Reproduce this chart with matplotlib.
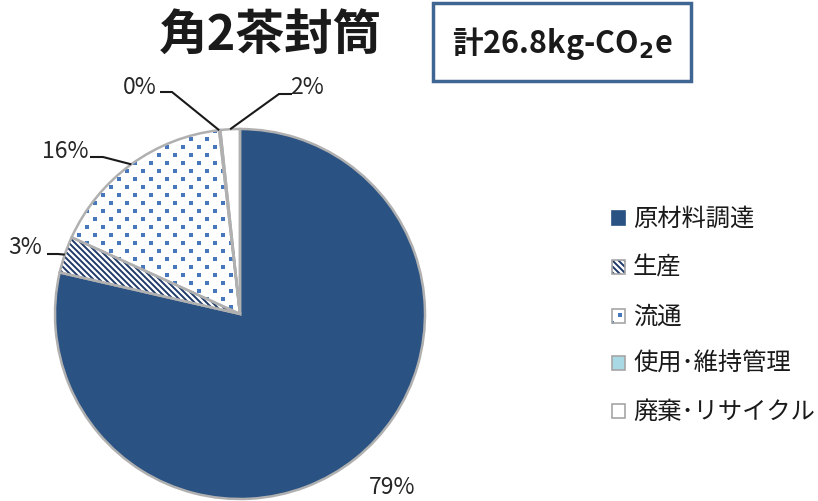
import matplotlib
matplotlib.use("Agg")
import matplotlib.pyplot as plt
import numpy as np
from matplotlib.patches import Rectangle
from matplotlib.collections import LineCollection

plt.rcParams['font.family'] = ['Noto Sans CJK JP', 'DejaVu Sans']

# ---- data ----
categories = ["原材料調達", "生産", "流通", "使用･維持管理", "廃棄･リサイクル"]
shares = [78.6, 3.2, 16.4, 0.1, 1.7]          # percent of total
title = "角2茶封筒"
total_label = r"計26.8kg-CO$_{\mathbf{2}}$e"

# ---- styles ----
face_colors = ['#2A5283', 'white', 'white', '#A9D9E4', 'white']
patterns = [None, 'lines', 'dots', None, None]
line_color = '#1F3A68'
dot_color = '#4677BD'
outline = '#B0B0B0'

W, H = 818, 502
fig = plt.figure(figsize=(W / 100, H / 100), dpi=100)
ax = fig.add_axes([0, 0, 1, 1])


def Y(y):
    return H - y


def add_pattern(kind, patch, x0, x1, y0, y1):
    if kind == 'lines':
        segs = []
        for c in np.arange(x0 + y0 - (y1 - y0) - 20, x1 + y1 + 20, 6.0):
            # y = -x + c  (top-left to bottom-right)
            segs.append([(x0 - 5, c - (x0 - 5)), (x1 + 5, c - (x1 + 5))])
        lc = LineCollection(segs, colors=line_color, linewidths=1.4, zorder=2)
        ax.add_collection(lc)
        lc.set_clip_path(patch)
    elif kind == 'dots':
        pts = []
        for r, yy in enumerate(np.arange(y0, y1 + 8, 8)):
            off = 0 if r % 2 == 0 else 8
            for xx in np.arange(x0 + off, x1 + 16, 16):
                pts.append((xx, yy))
        pts = np.array(pts)
        sc = ax.scatter(pts[:, 0], pts[:, 1], marker='s', s=5,
                        color=dot_color, linewidths=0, zorder=2)
        sc.set_clip_path(patch)


cx, cy, R = 240, Y(315), 185

w1, _ = ax.pie(shares, colors=face_colors, startangle=90,
               counterclock=False, center=(cx, cy), radius=R,
               wedgeprops=dict(linewidth=0))
for w, kind in zip(w1, patterns):
    if kind:
        add_pattern(kind, w, cx - R, cx + R, cy - R, cy + R)
w2, _ = ax.pie(shares, colors=['none'] * 5, startangle=90, counterclock=False,
               center=(cx, cy), radius=R,
               wedgeprops=dict(edgecolor=outline, linewidth=1.8, fill=False,
                               zorder=3))

ax.set_xlim(0, W)
ax.set_ylim(0, H)
ax.set_aspect('auto')
ax.axis('off')

# ---- labels with leader lines ----
label_layout = [
    dict(tx=392, ty=488, leader=None),
    dict(tx=25, ty=248, leader=(47, 58, 255)),
    dict(tx=65, ty=152, leader=(90, 103, 158)),
    dict(tx=140, ty=88, leader=(160, 172, 93)),
    dict(tx=307, ty=88, leader=(292, 279, 95)),
]
cum = np.cumsum([0] + shares)
tot = sum(shares)
for i, (s, lay) in enumerate(zip(shares, label_layout)):
    ax.text(lay['tx'], Y(lay['ty']), f"{s:.0f}%", ha='center', va='center',
            fontsize=16.5, color='#262626')
    if lay['leader'] is not None:
        mid = (cum[i] + cum[i + 1]) / 2 / tot
        if s < 0.5:
            mid = cum[i] / tot
        ang = np.deg2rad(90 - 360 * mid)
        ax_, ay_ = cx + R * np.cos(ang), cy + R * np.sin(ang)
        x0, x1, ly = lay['leader']
        ax.plot([x0, x1, ax_], [Y(ly), Y(ly), ay_], color='#1A1A1A', lw=1.5,
                solid_capstyle='butt', zorder=5)

# ---- title ----
ax.text(270, Y(36), title, ha='center', va='center', fontsize=35,
        fontweight='bold', color='#1A1A1A')

# ---- total box ----
ax.add_patch(Rectangle((433, Y(82)), 258, 78, facecolor='white',
                       edgecolor='#3F6592', linewidth=2.5))
ax.text(562, Y(44), total_label, ha='center', va='center', fontsize=22,
        fontweight='bold', color='#1A1A1A')

# ---- legend ----
leg_y = [219, 268, 317, 364, 412]
for i, (cat, ly) in enumerate(zip(categories, leg_y)):
    rx, ry = 612, Y(ly) - 7
    r1 = Rectangle((rx, ry), 13, 14, facecolor=face_colors[i], linewidth=0)
    ax.add_patch(r1)
    if patterns[i]:
        add_pattern(patterns[i], r1, rx, rx + 13, ry, ry + 14)
    ax.add_patch(Rectangle((rx, ry), 13, 14, facecolor='none',
                           edgecolor='#A6A6A6' if i != 0 else face_colors[0],
                           linewidth=1.2, zorder=3))
    ax.text(633, Y(ly), cat, ha='left', va='center', fontsize=17.5,
            color='#1A1A1A')

fig.savefig("out.png", dpi=100)
